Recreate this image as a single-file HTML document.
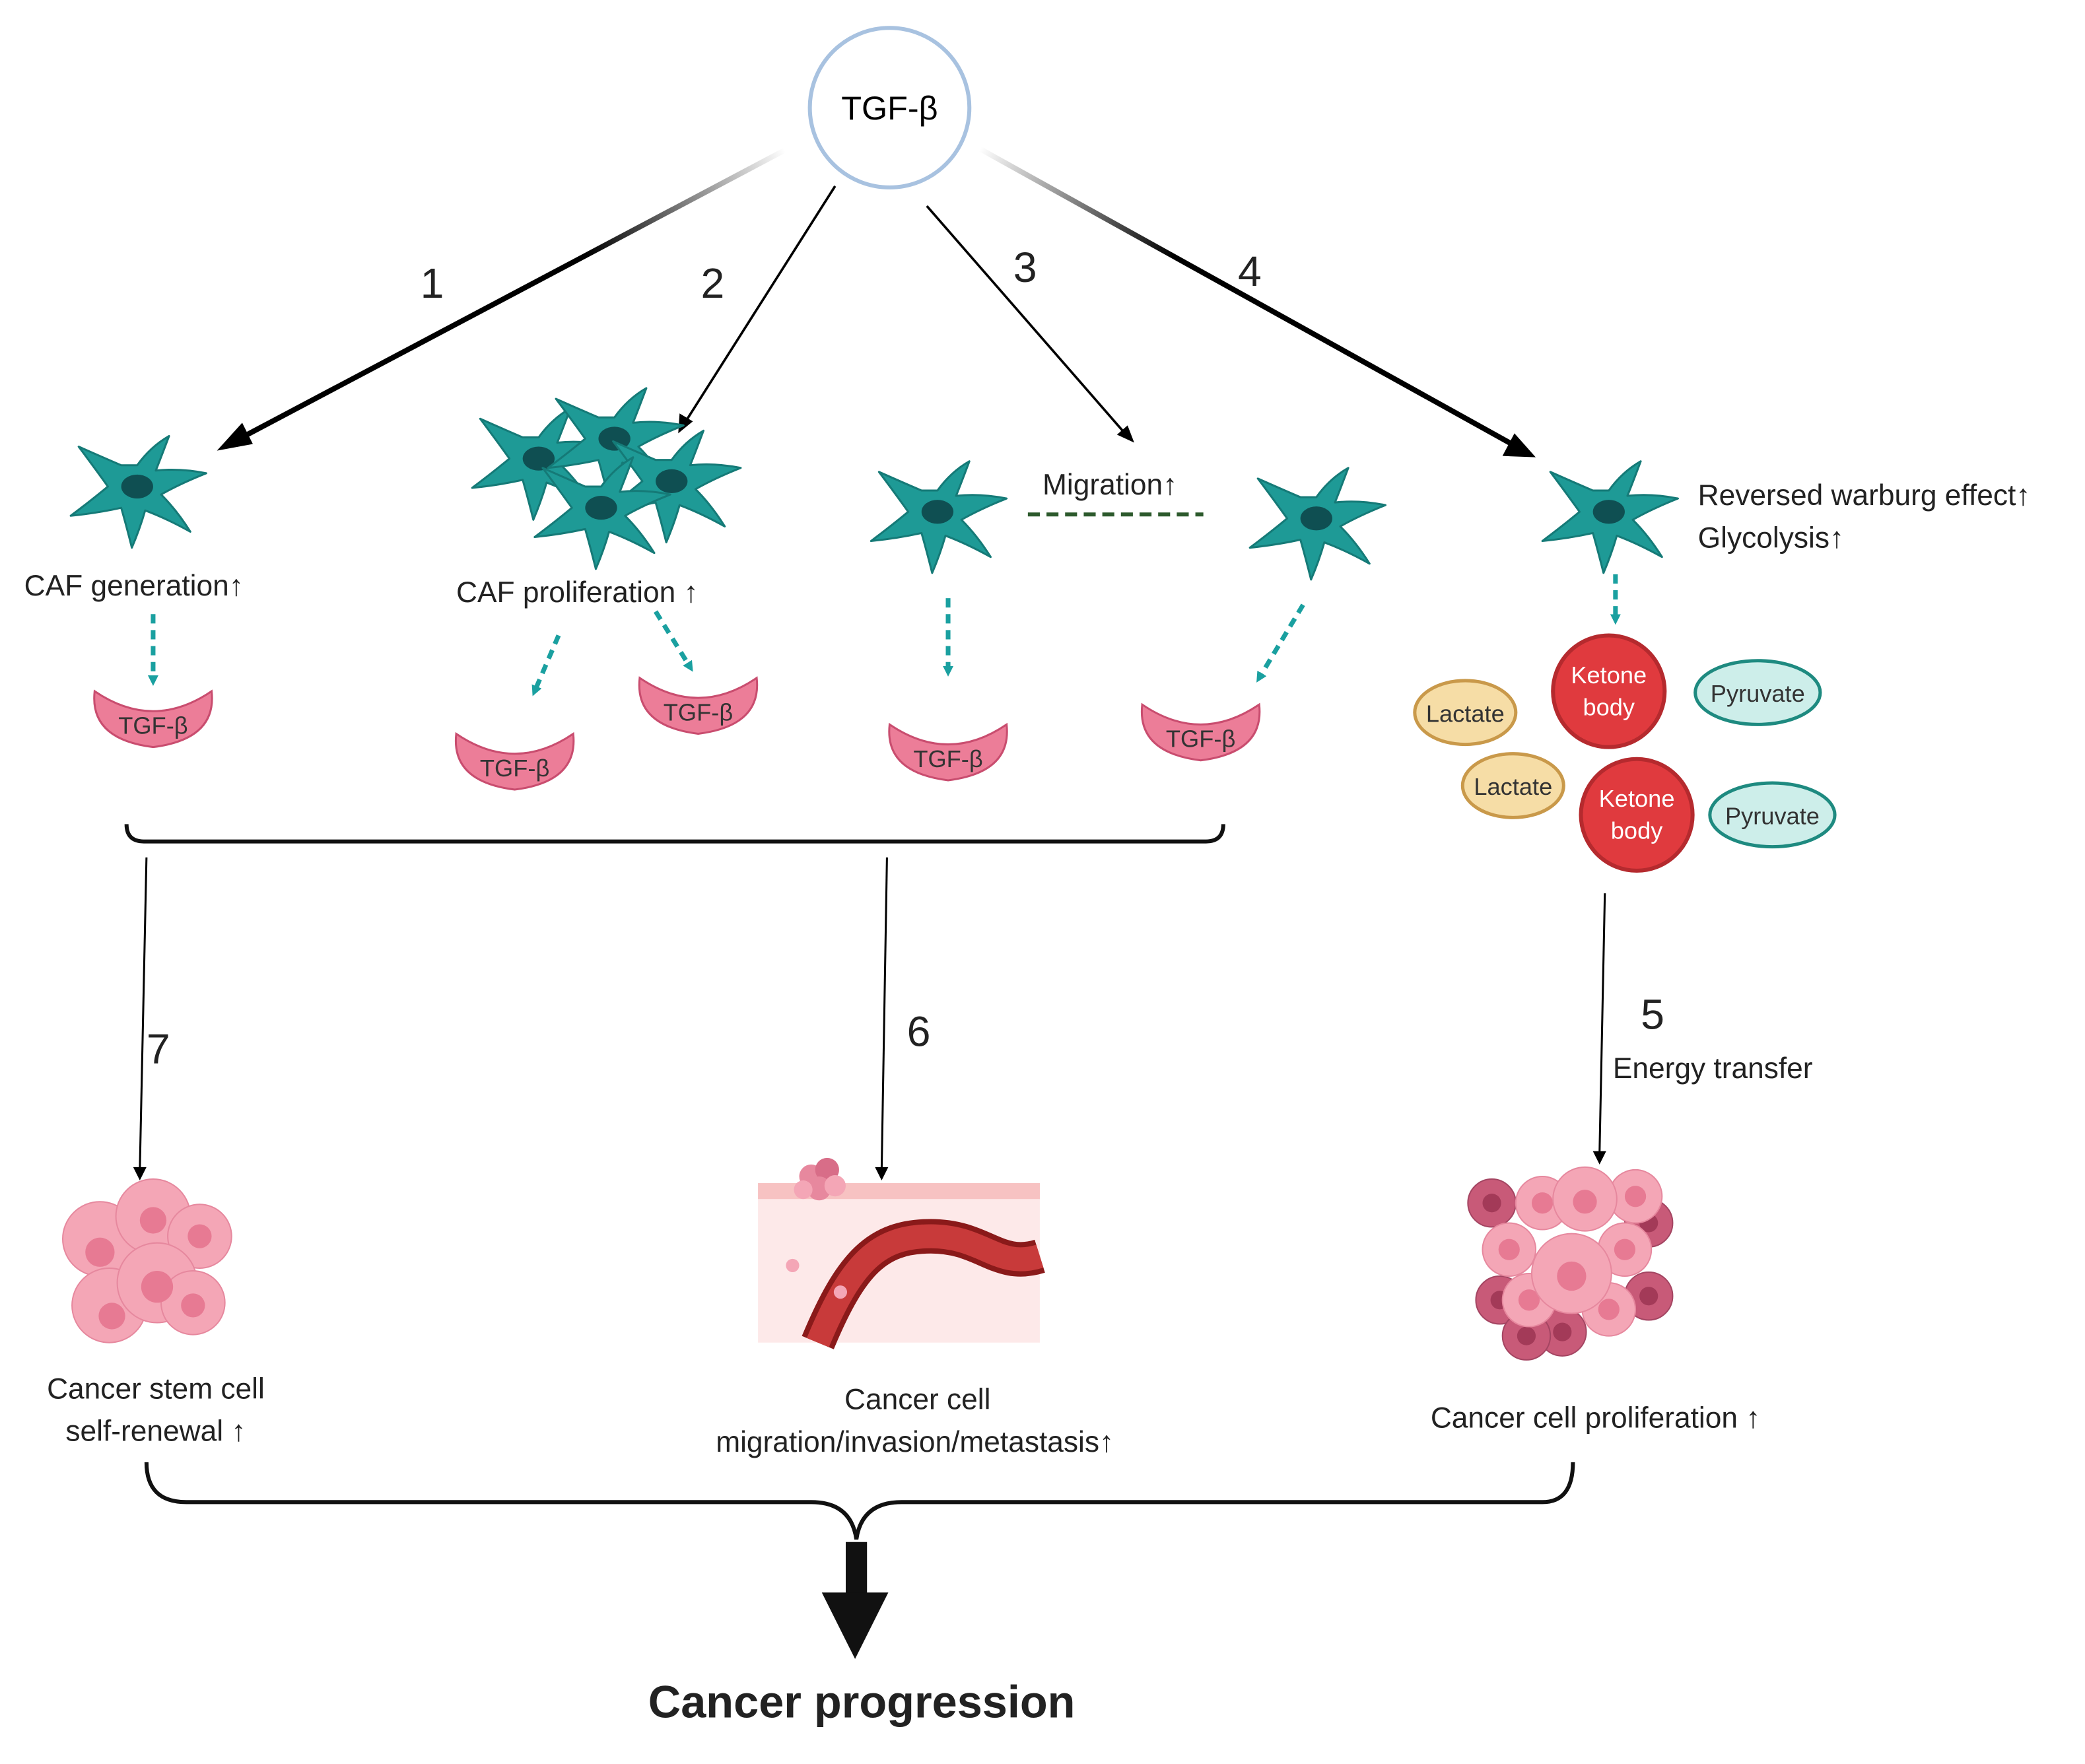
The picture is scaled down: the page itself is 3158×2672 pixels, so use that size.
<!DOCTYPE html>
<html><head><meta charset="utf-8"><style>
html,body{margin:0;padding:0;background:#fff;}
svg{display:block;}
text{font-family:"Liberation Sans",sans-serif;}
</style></head><body>
<svg width="3158" height="2672" viewBox="0 0 1568 1327" xmlns="http://www.w3.org/2000/svg">
<defs>
<linearGradient id="g1" x1="590" y1="113" x2="165" y2="338" gradientUnits="userSpaceOnUse"><stop offset="0" stop-color="#fff"/><stop offset="0.35" stop-color="#000"/></linearGradient>
<linearGradient id="g4" x1="737" y1="112" x2="1153" y2="343" gradientUnits="userSpaceOnUse"><stop offset="0" stop-color="#fff"/><stop offset="0.35" stop-color="#000"/></linearGradient>
<g id="cell">
<path d="M0,-16 Q10,-30 24,-38 Q18,-22 14,-12 Q32,-14 52,-10 Q32,-2 18,6 Q30,18 40,34 Q22,24 6,18 Q2,32 -4,46 Q-8,30 -12,16 Q-30,20 -50,22 Q-34,10 -22,0 Q-32,-14 -44,-30 Q-26,-22 -12,-16 Q-6,-16 0,-16 Z" fill="#1e9a96" stroke="#157a77" stroke-width="1.5" stroke-linejoin="round"/>
<ellipse cx="0" cy="0" rx="12" ry="9" fill="#0f4f52"/>
</g>
<g id="tgf">
<path d="M-44,-16 Q0,14 44,-16 Q48,20 0,26 Q-48,20 -44,-16 Z" fill="#ec7d98" stroke="#c94d6f" stroke-width="1.5"/>
</g>
<marker id="ta" markerWidth="8" markerHeight="8" refX="4" refY="4" orient="auto" markerUnits="userSpaceOnUse"><path d="M0,0 L8,4 L0,8 Z" fill="#1aa0a0"/></marker>
<g id="pc"><circle r="20" fill="#f4a6b6" stroke="#e6889e"/><circle r="8" fill="#e77a93"/></g>
<g id="dc"><circle r="18" fill="#c85a78" stroke="#a44562"/><circle r="7" fill="#a33a58"/></g>
</defs>

<circle cx="669" cy="81" r="60" fill="#fff" stroke="#a8c2e0" stroke-width="3"/>
<text x="669" y="90" font-size="25" text-anchor="middle">TGF-β</text>

<line x1="590" y1="113" x2="180" y2="330" stroke="url(#g1)" stroke-width="4"/>
<polygon points="163,339 182,318 190,334" fill="#000"/>
<line x1="628" y1="140" x2="515" y2="318" stroke="#000" stroke-width="1.8"/>
<polygon points="510,326 511,311 521,317" fill="#000"/>
<line x1="697" y1="155" x2="846" y2="326" stroke="#000" stroke-width="1.8"/>
<polygon points="853,333 840,327 848,320" fill="#000"/>
<line x1="737" y1="112" x2="1137" y2="334" stroke="url(#g4)" stroke-width="4"/>
<polygon points="1155,344 1130,343 1139,326" fill="#000"/>

<g font-size="32" fill="#222">
<text x="316" y="224">1</text><text x="527" y="224">2</text><text x="762" y="212">3</text><text x="931" y="215">4</text>
</g>

<use href="#cell" x="103" y="366"/>
<use href="#cell" x="405" y="345"/>
<use href="#cell" x="462" y="330"/>
<use href="#cell" x="505" y="362"/>
<use href="#cell" x="452" y="382"/>
<use href="#cell" x="705" y="385"/>
<use href="#cell" x="990" y="390"/>
<use href="#cell" x="1210" y="385"/>

<g font-size="22" fill="#222">
<text x="18" y="448">CAF generation↑</text>
<text x="343" y="453">CAF proliferation ↑</text>
<text x="784" y="372">Migration↑</text>
<text x="1277" y="380">Reversed warburg effect↑</text>
<text x="1277" y="412">Glycolysis↑</text>
</g>
<line x1="773" y1="387" x2="905" y2="387" stroke="#2d5a2d" stroke-width="3" stroke-dasharray="9,5"/>

<g stroke="#1aa0a0" stroke-width="3.5" stroke-dasharray="7,5" marker-end="url(#ta)" fill="none">
<line x1="115" y1="462" x2="115" y2="512"/>
<line x1="420" y1="478" x2="402" y2="520"/>
<line x1="493" y1="460" x2="519" y2="502"/>
<line x1="713" y1="450" x2="713" y2="505"/>
<line x1="980" y1="455" x2="947" y2="510"/>
<line x1="1215" y1="432" x2="1215" y2="466"/>
</g>

<g font-size="18" fill="#333" text-anchor="middle">
<use href="#tgf" x="115" y="536"/><text x="115" y="552">TGF-β</text>
<use href="#tgf" x="387" y="568"/><text x="387" y="584">TGF-β</text>
<use href="#tgf" x="525" y="526"/><text x="525" y="542">TGF-β</text>
<use href="#tgf" x="713" y="561"/><text x="713" y="577">TGF-β</text>
<use href="#tgf" x="903" y="546"/><text x="903" y="562">TGF-β</text>
</g>

<path d="M95,620 Q95,633 108,633 L907,633 Q920,633 920,620" fill="none" stroke="#111" stroke-width="3"/>

<g font-size="18" text-anchor="middle">
<circle cx="1210" cy="520" r="42" fill="#e03a3e" stroke="#b52a2e" stroke-width="3"/>
<text x="1210" y="514" fill="#fff">Ketone</text><text x="1210" y="538" fill="#fff">body</text>
<circle cx="1231" cy="613" r="42" fill="#e03a3e" stroke="#b52a2e" stroke-width="3"/>
<text x="1231" y="607" fill="#fff">Ketone</text><text x="1231" y="631" fill="#fff">body</text>
<ellipse cx="1102" cy="536" rx="38" ry="24" fill="#f6dda6" stroke="#c9994a" stroke-width="2.5"/>
<text x="1102" y="543" fill="#333">Lactate</text>
<ellipse cx="1138" cy="591" rx="38" ry="24" fill="#f6dda6" stroke="#c9994a" stroke-width="2.5"/>
<text x="1138" y="598" fill="#333">Lactate</text>
<ellipse cx="1322" cy="521" rx="47" ry="24" fill="#cdeeea" stroke="#1e8a80" stroke-width="2.5"/>
<text x="1322" y="528" fill="#333">Pyruvate</text>
<ellipse cx="1333" cy="613" rx="47" ry="24" fill="#cdeeea" stroke="#1e8a80" stroke-width="2.5"/>
<text x="1333" y="620" fill="#333">Pyruvate</text>
</g>

<g stroke="#000" stroke-width="1.5">
<line x1="110" y1="645" x2="105" y2="880"/>
<line x1="667" y1="645" x2="663" y2="880"/>
<line x1="1207" y1="672" x2="1203" y2="868"/>
</g>
<polygon points="100,878 110,878 105,888" fill="#000"/>
<polygon points="658,878 668,878 663,888" fill="#000"/>
<polygon points="1198,866 1208,866 1203,876" fill="#000"/>
<g font-size="32" fill="#222">
<text x="110" y="800">7</text><text x="682" y="787">6</text><text x="1234" y="774">5</text>
</g>
<text x="1213" y="811" font-size="22" fill="#222">Energy transfer</text>

<g>
<circle cx="75" cy="932" r="28" fill="#f4a6b6" stroke="#e6889e"/>
<circle cx="115" cy="915" r="28" fill="#f4a6b6" stroke="#e6889e"/>
<circle cx="150" cy="930" r="24" fill="#f4a6b6" stroke="#e6889e"/>
<circle cx="82" cy="982" r="28" fill="#f4a6b6" stroke="#e6889e"/>
<circle cx="118" cy="965" r="30" fill="#f4a6b6" stroke="#e6889e"/>
<circle cx="145" cy="980" r="24" fill="#f4a6b6" stroke="#e6889e"/>
<circle cx="75" cy="942" r="11" fill="#e77a93"/><circle cx="115" cy="918" r="10" fill="#e77a93"/>
<circle cx="150" cy="930" r="9" fill="#e77a93"/><circle cx="118" cy="968" r="12" fill="#e77a93"/>
<circle cx="84" cy="990" r="10" fill="#e77a93"/><circle cx="145" cy="982" r="9" fill="#e77a93"/>
</g>

<rect x="570" y="890" width="212" height="120" fill="#fde9e9"/>
<rect x="570" y="890" width="212" height="12" fill="#f7c2c2"/>
<path d="M615,1010 C640,950 660,930 700,930 C740,930 750,955 782,945" fill="none" stroke="#8a1a1a" stroke-width="26"/>
<path d="M615,1010 C640,950 660,930 700,930 C740,930 750,955 782,945" fill="none" stroke="#c83a3a" stroke-width="18"/>
<circle cx="610" cy="885" r="9" fill="#e7889e"/><circle cx="622" cy="880" r="9" fill="#d86d88"/>
<circle cx="616" cy="894" r="9" fill="#e7889e"/><circle cx="628" cy="892" r="8" fill="#f4a6b6"/>
<circle cx="604" cy="895" r="7" fill="#f4a6b6"/>
<circle cx="596" cy="952" r="5" fill="#f4a6b6"/><circle cx="632" cy="972" r="5" fill="#f4a6b6"/>

<use href="#dc" x="1122" y="905"/><use href="#dc" x="1240" y="920"/><use href="#dc" x="1240" y="975"/>
<use href="#dc" x="1175" y="1002"/><use href="#dc" x="1128" y="978"/><use href="#dc" x="1148" y="1005"/>
<use href="#pc" x="1160" y="905"/><use href="#pc" x="1222" y="940"/><use href="#pc" x="1135" y="940"/>
<use href="#pc" x="1210" y="985"/><use href="#pc" x="1150" y="978"/><use href="#pc" x="1230" y="900"/>
<circle cx="1182" cy="958" r="30" fill="#f4a6b6" stroke="#e6889e"/><circle cx="1182" cy="960" r="11" fill="#e77a93"/>
<circle cx="1192" cy="902" r="24" fill="#f4a6b6" stroke="#e6889e"/><circle cx="1192" cy="904" r="9" fill="#e77a93"/>

<g font-size="22" fill="#222" text-anchor="middle">
<text x="117" y="1052">Cancer stem cell</text>
<text x="117" y="1084">self-renewal ↑</text>
<text x="690" y="1060">Cancer cell</text>
<text x="688" y="1092">migration/invasion/metastasis↑</text>
<text x="1200" y="1074">Cancer cell proliferation ↑</text>
</g>

<path d="M110,1100 Q110,1130 140,1130 L610,1130 Q640,1130 644,1158 Q648,1130 678,1130 L1160,1130 Q1183,1130 1183,1100" fill="none" stroke="#111" stroke-width="3"/>
<rect x="636" y="1160" width="16" height="40" fill="#111"/>
<polygon points="618,1198 668,1198 643,1248" fill="#111"/>
<text x="648" y="1292" font-size="34" font-weight="bold" text-anchor="middle" fill="#222">Cancer progression</text>
</svg>
</body></html>
